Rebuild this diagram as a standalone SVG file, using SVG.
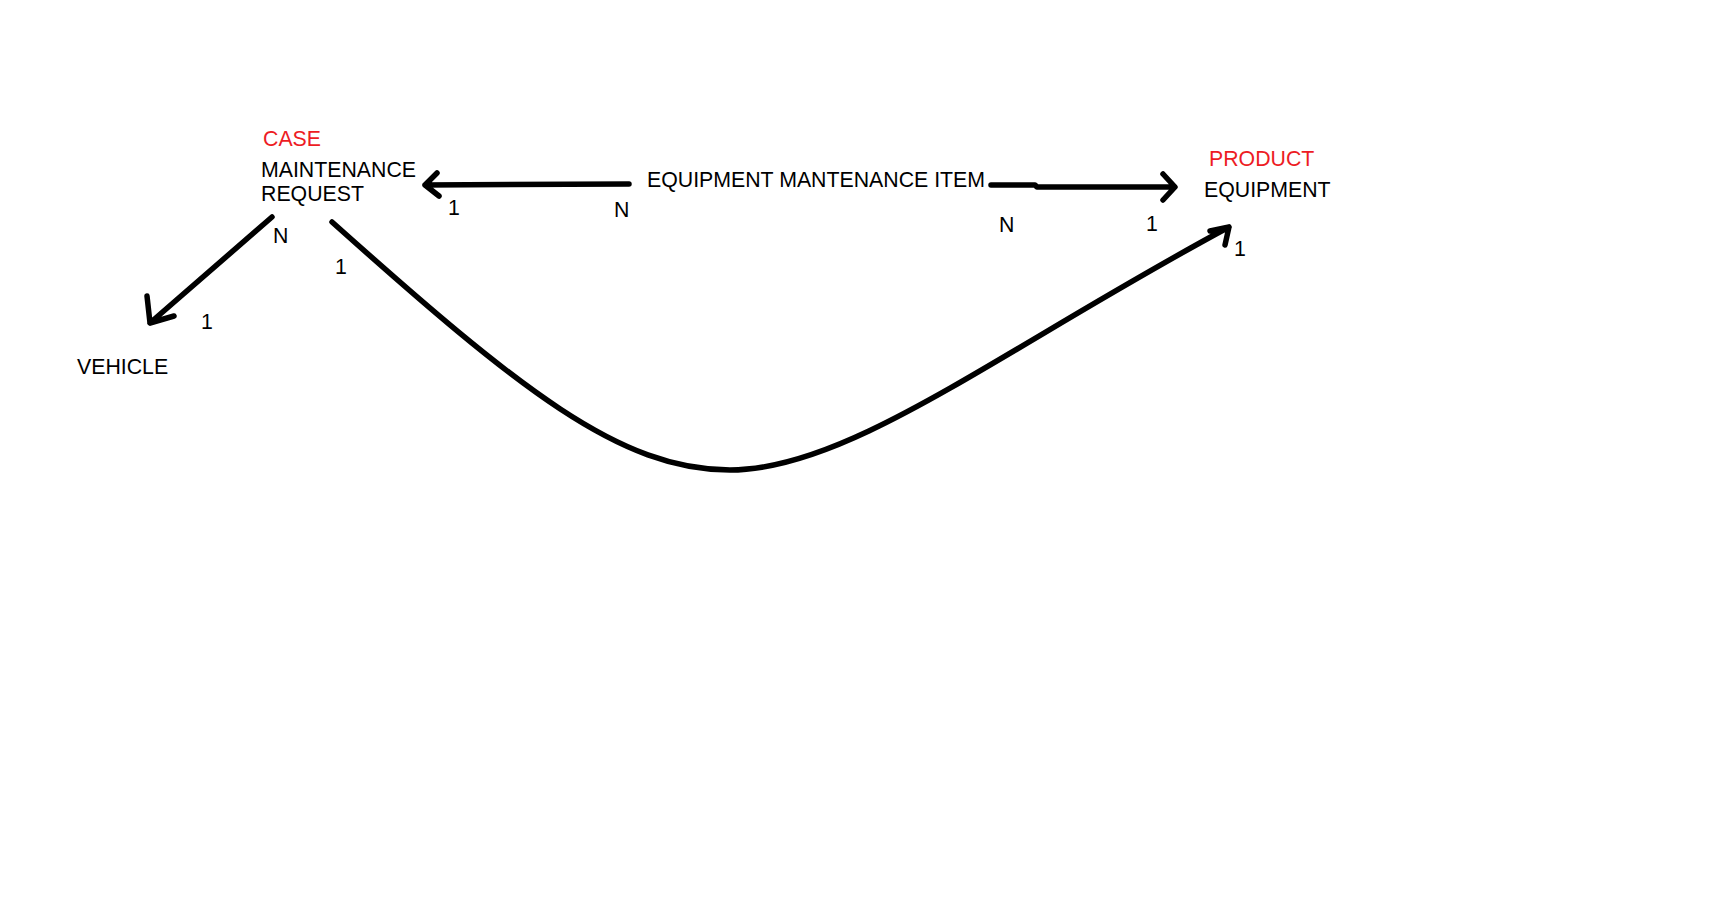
<svg xmlns="http://www.w3.org/2000/svg" width="1709" height="921" viewBox="0 0 1709 921">
<style>
text{font-family:"Liberation Sans",Arial,sans-serif;font-size:21.3px;fill:#000}
.red{fill:#ed1c24}
.ln{fill:none;stroke:#000;stroke-width:5.5;stroke-linecap:round;stroke-linejoin:round}
</style>
<rect width="1709" height="921" fill="#fff"/>
<g id="maintenance-request">
<text class="red" x="263" y="146">CASE</text>
<text x="261" y="177">MAINTENANCE</text>
<text x="261" y="201">REQUEST</text>
</g>
<g id="equipment-maintenance-item">
<text x="647" y="187">EQUIPMENT MANTENANCE ITEM</text>
</g>
<g id="equipment">
<text class="red" x="1209" y="166">PRODUCT</text>
<text x="1204" y="197">EQUIPMENT</text>
</g>
<g id="vehicle">
<text x="77" y="374">VEHICLE</text>
</g>
<g id="connectors">
<path class="ln" d="M629 184 L425 185 M437 173 L425 185 L439 196"/>
<path class="ln" d="M991 185 L1035 185 L1037 187 L1174 187 M1163 174 L1175 187 L1163 200"/>
<path class="ln" d="M272 217 L150 323 M147 296 L150 323 L174 316"/>
<path class="ln" d="M332 222 C520 390 620 470 730 470 C850 470 1000 350 1229 227 M1210 231 L1229 227 L1225 245"/>
</g>
<g id="labels">
<text x="448" y="215">1</text>
<text x="614" y="217">N</text>
<text x="273" y="243">N</text>
<text x="335" y="274">1</text>
<text x="201" y="329">1</text>
<text x="999" y="232">N</text>
<text x="1146" y="231">1</text>
<text x="1234" y="256">1</text>
</g>
</svg>
